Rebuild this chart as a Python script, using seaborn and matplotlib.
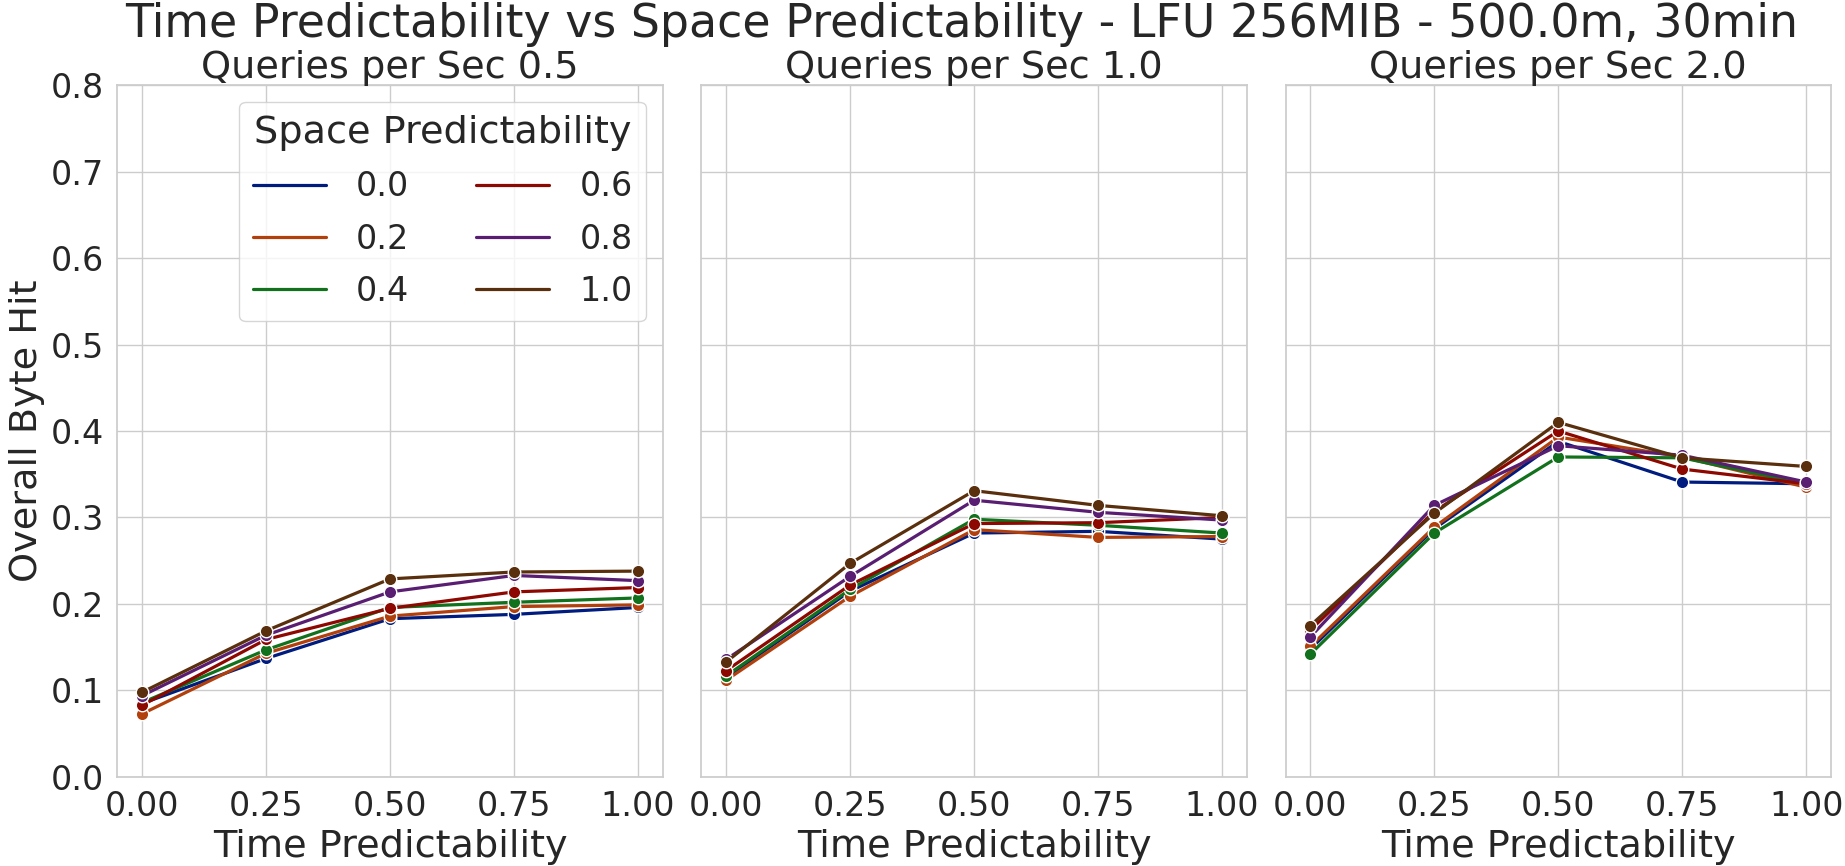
import matplotlib
matplotlib.use("Agg")
import matplotlib.pyplot as plt
from matplotlib.lines import Line2D
from matplotlib.ticker import FormatStrFormatter, FixedLocator
import seaborn as sns
import pandas as pd

# ---- data ----
time_pred = [0.0, 0.25, 0.5, 0.75, 1.0]
qps_levels = [0.5, 1.0, 2.0]
space_levels = ["0.0", "0.2", "0.4", "0.6", "0.8", "1.0"]

hit_q05 = {
    "0.0": [0.085, 0.137, 0.183, 0.188, 0.196],
    "0.2": [0.073, 0.143, 0.186, 0.197, 0.199],
    "0.4": [0.086, 0.147, 0.196, 0.202, 0.207],
    "0.6": [0.083, 0.159, 0.195, 0.214, 0.219],
    "0.8": [0.094, 0.164, 0.214, 0.233, 0.227],
    "1.0": [0.098, 0.169, 0.229, 0.237, 0.238],
}
hit_q10 = {
    "0.0": [0.115, 0.215, 0.282, 0.284, 0.275],
    "0.2": [0.112, 0.209, 0.286, 0.277, 0.278],
    "0.4": [0.117, 0.217, 0.298, 0.291, 0.282],
    "0.6": [0.123, 0.222, 0.293, 0.294, 0.300],
    "0.8": [0.136, 0.232, 0.320, 0.306, 0.297],
    "1.0": [0.133, 0.247, 0.331, 0.314, 0.302],
}
hit_q20 = {
    "0.0": [0.148, 0.287, 0.388, 0.341, 0.339],
    "0.2": [0.151, 0.289, 0.393, 0.370, 0.335],
    "0.4": [0.142, 0.282, 0.370, 0.369, 0.339],
    "0.6": [0.170, 0.307, 0.400, 0.356, 0.339],
    "0.8": [0.162, 0.314, 0.383, 0.372, 0.341],
    "1.0": [0.175, 0.305, 0.410, 0.369, 0.359],
}
panel_data = [hit_q05, hit_q10, hit_q20]

x_ticks = [0.0, 0.25, 0.5, 0.75, 1.0]
y_ticks = [0.0, 0.1, 0.2, 0.3, 0.4, 0.5, 0.6, 0.7, 0.8]

title = "Time Predictability vs Space Predictability - LFU 256MIB - 500.0m, 30min"

rows = []
for q, d in zip(qps_levels, panel_data):
    for s in space_levels:
        for t, v in zip(time_pred, d[s]):
            rows.append({"qps": q, "space": s, "time": t, "hit": v})
df = pd.DataFrame(rows)

# ---- style ----
sns.set_theme(style="whitegrid")
plt.rcParams["font.family"] = ["DejaVu Sans"]
palette = sns.color_palette("dark", len(space_levels))

fig, axes = plt.subplots(1, 3, figsize=(18.45, 8.66), dpi=100, sharey=True)
fig.subplots_adjust(left=0.0636, right=0.9924, top=0.9018, bottom=0.1028, wspace=0.071)

for ax, q in zip(axes, qps_levels):
    sub = df[df["qps"] == q]
    sns.lineplot(data=sub, x="time", y="hit", hue="space", hue_order=space_levels,
                 palette=palette, marker="o", markersize=9, markeredgecolor="white",
                 markeredgewidth=1.0, linewidth=2.3, ax=ax, legend=False)
    ax.set_title(f"Queries per Sec {q}", fontsize=27.5, pad=5)
    ax.set_xlabel("Time Predictability", fontsize=27.5)
    ax.set_ylabel("")
    ax.xaxis.set_major_locator(FixedLocator(x_ticks))
    ax.xaxis.set_major_formatter(FormatStrFormatter("%.2f"))
    ax.yaxis.set_major_locator(FixedLocator(y_ticks))
    ax.yaxis.set_major_formatter(FormatStrFormatter("%.1f"))
    ax.tick_params(axis="both", labelsize=24)
    ax.set_ylim(0.0, 0.8)
    ax.set_xlim(-0.05, 1.05)

axes[0].set_ylabel("Overall Byte Hit", fontsize=27.5)

handles = [Line2D([], [], color=c, lw=2.3) for c in palette]
axes[0].legend(handles, space_levels, title="Space Predictability", ncol=2,
               loc="upper right", fontsize=24, title_fontsize=27.5,
               handlelength=2.2, handletextpad=0.9, columnspacing=2.0,
               labelspacing=0.58, borderpad=0.4)

fig.suptitle(title, fontsize=33, x=0.521, y=0.998, va="top")

fig.savefig("out.png", dpi=100)
